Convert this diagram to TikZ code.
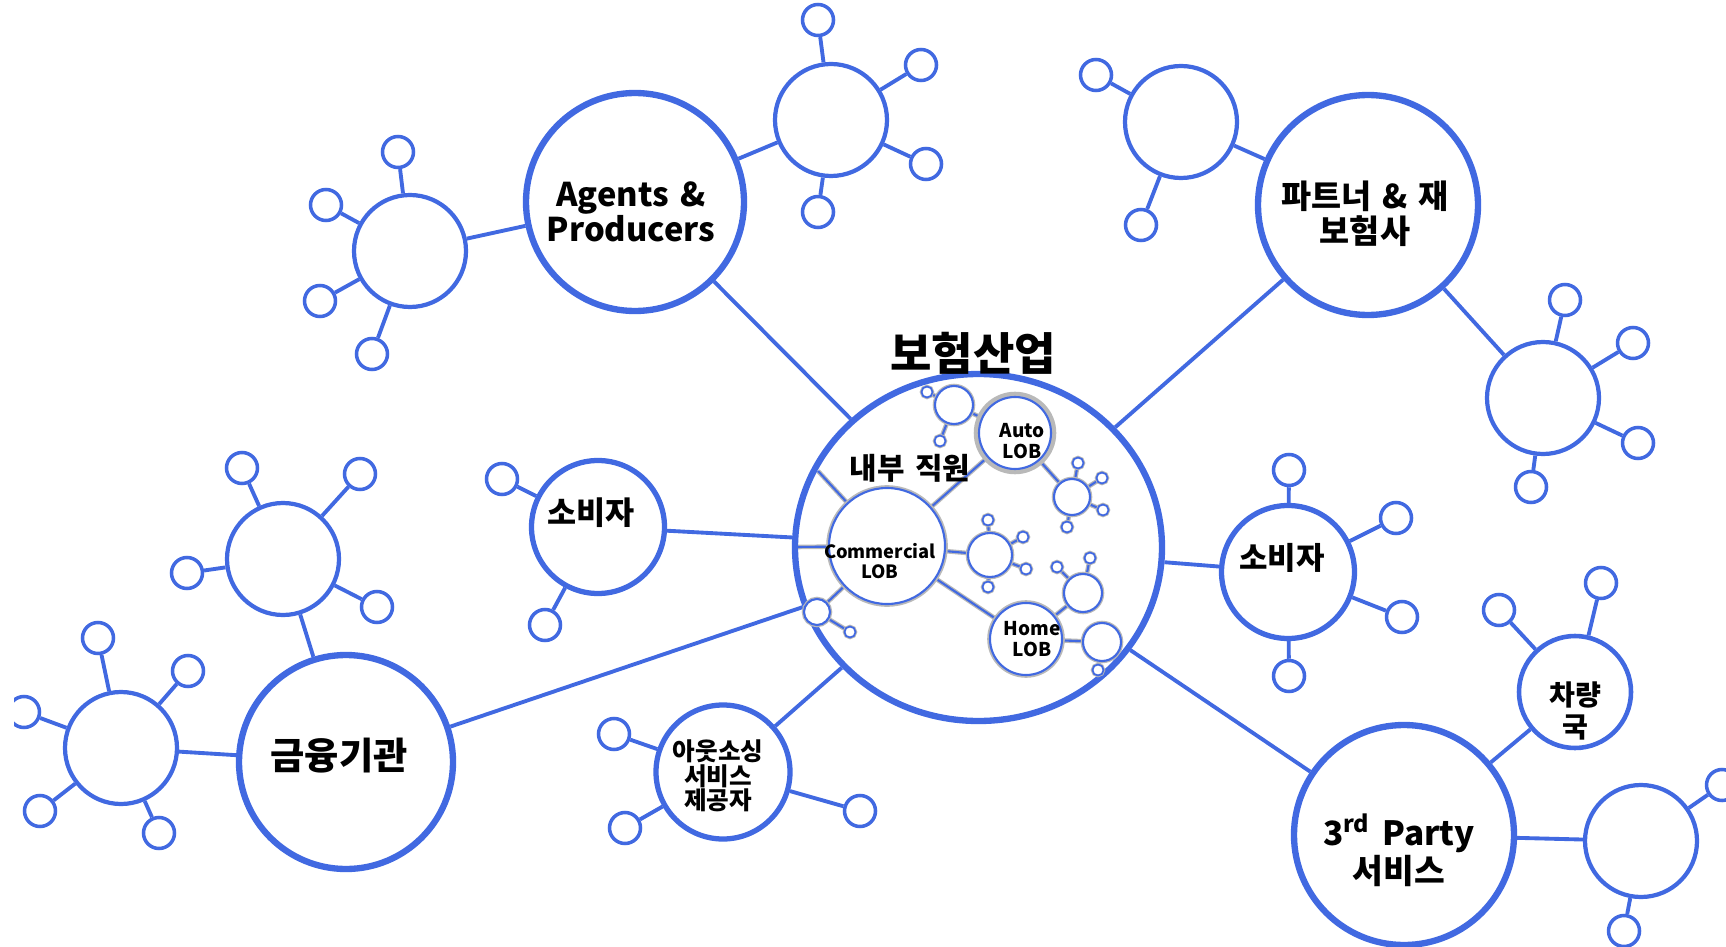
\documentclass[tikz,border=0pt]{standalone}
\usepackage{fontspec}
\setmainfont{Noto Sans CJK KR}[WordSpace=1.5]
\usetikzlibrary{shapes.geometric}
\pgfdeclarelayer{bg}
\pgfsetlayers{bg,main}
\definecolor{netblue}{RGB}{65,105,225}
\tikzset{
    every node/.style={circle, inner sep=0mm, draw=netblue, fill=white, align=center, font=\bfseries}
}
\tikzset{every label/.style={shape=rectangle, draw=none, fill=none, inner sep=0mm, align=center}}
\tikzset{
    group/.style={line width=1.8pt, minimum size=2.18cm},
    member/.style={line width=1.5pt, minimum size=1.33cm},
    hub/.style={line width=1.2pt, minimum size=1.12cm},
    sat/.style={line width=1pt, minimum size=0.31cm},
    caption/.style={draw=none, fill=none, rectangle},
    link/.style={draw=netblue, line width=1.1pt},
    lob/.style={line width=0.6pt, preaction={draw=gray!55, line width=1.6pt}},
    ihub/.style={line width=0.6pt, preaction={draw=gray!55, line width=1.3pt}},
    isat/.style={line width=0.5pt, minimum size=0.11cm, preaction={draw=gray!55, line width=1pt}},
    ilink/.style={draw=netblue, line width=0.6pt, preaction={draw=gray!55, line width=1.3pt}}
}

\begin{document}
\begin{tikzpicture}
        \useasboundingbox (0cm, 0cm) rectangle (17.26cm, -9.47cm);
        \clip (0.14cm, 0cm) rectangle (17.26cm, -9.47cm);
        % core
        \node (g0) [ellipse, fill=none, line width=1.8pt, minimum width=3.67cm, minimum height=3.47cm] at (9.785cm, -5.475cm) {};
        \node (title) [caption, font=\bfseries\fontsize{12.8}{14}\selectfont] at (9.73cm, -3.53cm) {보험산업};
        \node (staff) [caption, font=\bfseries\fontsize{8.5}{9}\selectfont] at (9.10cm, -4.68cm) {내부 직원};
        \node (l1) [lob, minimum size=1.16cm, label={[font=\bfseries\fontsize{5.2}{5.6}\selectfont, xshift=-0.07cm, yshift=-0.15cm]center:Commercial\\LOB}] at (8.87cm, -5.46cm) {};
        \node (l2) [lob, minimum size=0.72cm, preaction={draw=gray!55, line width=3pt}, label={[font=\bfseries\fontsize{5.4}{5.8}\selectfont, xshift=0.07cm, yshift=-0.08cm]center:Auto\\LOB}] at (10.15cm, -4.33cm) {};
        \node (l3) [lob, minimum size=0.72cm, label={[font=\bfseries\fontsize{5.4}{5.8}\selectfont, xshift=0.06cm]center:Home\\LOB}] at (10.26cm, -6.39cm) {};
        \node (i1) [ihub, minimum size=0.38cm] at (9.54cm, -4.05cm) {};
        \node (i2) [ihub, minimum size=0.36cm] at (10.72cm, -4.97cm) {};
        \node (i3) [ihub, minimum size=0.44cm] at (9.90cm, -5.55cm) {};
        \node (i4) [ihub, minimum size=0.38cm] at (10.83cm, -5.93cm) {};
        \node (i5) [ihub, minimum size=0.38cm] at (11.02cm, -6.42cm) {};
        \node (i6) [ihub, minimum size=0.26cm] at (8.17cm, -6.12cm) {};
        \node (t1) [isat] at (9.27cm, -3.92cm) {};
        \node (t2) [isat] at (9.40cm, -4.41cm) {};
        \node (t3) [isat] at (10.78cm, -4.63cm) {};
        \node (t4) [isat] at (11.02cm, -4.78cm) {};
        \node (t5) [isat] at (11.03cm, -5.10cm) {};
        \node (t6) [isat] at (10.67cm, -5.27cm) {};
        \node (t7) [isat] at (9.88cm, -5.20cm) {};
        \node (t8) [isat] at (10.23cm, -5.37cm) {};
        \node (t9) [isat] at (10.26cm, -5.69cm) {};
        \node (t10) [isat] at (9.88cm, -5.87cm) {};
        \node (t11) [isat] at (10.57cm, -5.67cm) {};
        \node (t12) [isat] at (10.90cm, -5.58cm) {};
        \node (t13) [isat] at (10.98cm, -6.70cm) {};
        \node (t14) [isat] at (8.50cm, -6.32cm) {};
        \coordinate (k1) at (8.18cm, -4.71cm);
        \coordinate (k2) at (7.97cm, -5.47cm);
        % groups
        \node (g1) [group, label={[font=\bfseries\fontsize{9.3}{10}\selectfont, xshift=-0.04cm, yshift=-0.10cm]center:Agents \&\\Producers}] at (6.35cm, -2.02cm) {};
        \node (g2) [group, minimum size=2.2cm, label={[font=\bfseries\fontsize{9.3}{10}\selectfont, xshift=-0.03cm, yshift=-0.085cm]center:파트너 \& 재\\보험사}] at (13.68cm, -2.05cm) {};
        \node (g3) [group, minimum size=2.14cm, label={[font=\bfseries\fontsize{10.6}{11}\selectfont, xshift=-0.07cm, yshift=0.06cm]center:금융기관}] at (3.46cm, -7.62cm) {};
        \node (g4) [member, label={[font=\bfseries\fontsize{9}{9}\selectfont, xshift=-0.07cm, yshift=0.14cm]center:소비자}] at (5.98cm, -5.27cm) {};
        \node (g5) [member, minimum size=1.34cm, label={[font=\bfseries\fontsize{7}{6.9}\selectfont, xshift=-0.05cm, yshift=-0.04cm]center:아웃소싱\\서비스\\제공자}] at (7.23cm, -7.72cm) {};
        \node (g6) [member, label={[font=\bfseries\fontsize{8.8}{9}\selectfont, xshift=-0.06cm, yshift=0.14cm]center:소비자}] at (12.88cm, -5.72cm) {};
        \node (g7) [group, minimum size=2.2cm, label={[font=\bfseries\fontsize{9.5}{10.8}\selectfont, xshift=-0.05cm, yshift=-0.15cm]center:3\textsuperscript{rd} Party\\서비스}] at (14.04cm, -8.35cm) {};
        \node (g8) [hub, line width=1.3pt, label={[font=\bfseries\fontsize{8}{9.3}\selectfont, yshift=-0.19cm]center:차량\\국}] at (15.75cm, -6.92cm) {};
        % hubs
        \node (h1) [hub] at (4.10cm, -2.51cm) {};
        \node (h2) [hub] at (8.31cm, -1.20cm) {};
        \node (h3) [hub] at (11.81cm, -1.22cm) {};
        \node (h4) [hub] at (15.43cm, -3.98cm) {};
        \node (h5) [hub] at (2.83cm, -5.59cm) {};
        \node (h6) [hub] at (1.21cm, -7.48cm) {};
        \node (h7) [hub] at (16.41cm, -8.41cm) {};
        % satellites
        \node (s1) [sat] at (3.98cm, -1.52cm) {};
        \node (s2) [sat] at (3.26cm, -2.05cm) {};
        \node (s3) [sat] at (3.20cm, -3.01cm) {};
        \node (s4) [sat] at (3.72cm, -3.54cm) {};
        \node (s5) [sat] at (8.18cm, -0.20cm) {};
        \node (s6) [sat] at (9.21cm, -0.65cm) {};
        \node (s7) [sat] at (9.26cm, -1.64cm) {};
        \node (s8) [sat] at (8.18cm, -2.12cm) {};
        \node (s9) [sat] at (10.96cm, -0.75cm) {};
        \node (s10) [sat] at (11.41cm, -2.25cm) {};
        \node (s11) [sat] at (15.65cm, -3.00cm) {};
        \node (s12) [sat] at (16.33cm, -3.43cm) {};
        \node (s13) [sat] at (16.38cm, -4.43cm) {};
        \node (s14) [sat] at (15.31cm, -4.87cm) {};
        \node (s15) [sat] at (2.42cm, -4.68cm) {};
        \node (s16) [sat] at (3.60cm, -4.74cm) {};
        \node (s17) [sat] at (1.87cm, -5.73cm) {};
        \node (s18) [sat] at (3.77cm, -6.07cm) {};
        \node (s19) [sat] at (0.98cm, -6.38cm) {};
        \node (s20) [sat] at (1.88cm, -6.71cm) {};
        \node (s21) [sat] at (0.24cm, -7.12cm) {};
        \node (s22) [sat] at (0.40cm, -8.11cm) {};
        \node (s23) [sat] at (1.59cm, -8.33cm) {};
        \node (s24) [sat] at (5.02cm, -4.79cm) {};
        \node (s25) [sat] at (5.45cm, -6.25cm) {};
        \node (s26) [sat] at (6.14cm, -7.34cm) {};
        \node (s27) [sat] at (6.25cm, -8.28cm) {};
        \node (s28) [sat] at (8.60cm, -8.11cm) {};
        \node (s29) [sat] at (12.89cm, -4.70cm) {};
        \node (s30) [sat] at (13.96cm, -5.18cm) {};
        \node (s31) [sat] at (14.02cm, -6.17cm) {};
        \node (s32) [sat] at (12.89cm, -6.76cm) {};
        \node (s33) [sat] at (14.99cm, -6.10cm) {};
        \node (s34) [sat] at (16.01cm, -5.83cm) {};
        \node (s35) [sat] at (17.22cm, -7.85cm) {};
        \node (s36) [sat] at (16.24cm, -9.31cm) {};
        \begin{pgfonlayer}{bg}
                \draw (g0) edge [link] (g1);
                \draw (g0) edge [link] (g2);
                \draw (g0) edge [link] (g3);
                \draw (g0) edge [link] (g4);
                \draw (g0) edge [link] (g5);
                \draw (g0) edge [link] (g6);
                \draw (g0) edge [link] (g7);
                \draw (g1) edge [link] (h1);
                \draw (g1) edge [link] (h2);
                \draw (g2) edge [link] (h3);
                \draw (g2) edge [link] (h4);
                \draw (g3) edge [link] (h5);
                \draw (g3) edge [link] (h6);
                \draw (g7) edge [link] (g8);
                \draw (g7) edge [link] (h7);
                \draw (h1) edge [link] (s1);
                \draw (h1) edge [link] (s2);
                \draw (h1) edge [link] (s3);
                \draw (h1) edge [link] (s4);
                \draw (h2) edge [link] (s5);
                \draw (h2) edge [link] (s6);
                \draw (h2) edge [link] (s7);
                \draw (h2) edge [link] (s8);
                \draw (h3) edge [link] (s9);
                \draw (h3) edge [link] (s10);
                \draw (h4) edge [link] (s11);
                \draw (h4) edge [link] (s12);
                \draw (h4) edge [link] (s13);
                \draw (h4) edge [link] (s14);
                \draw (h5) edge [link] (s15);
                \draw (h5) edge [link] (s16);
                \draw (h5) edge [link] (s17);
                \draw (h5) edge [link] (s18);
                \draw (h6) edge [link] (s19);
                \draw (h6) edge [link] (s20);
                \draw (h6) edge [link] (s21);
                \draw (h6) edge [link] (s22);
                \draw (h6) edge [link] (s23);
                \draw (g4) edge [link] (s24);
                \draw (g4) edge [link] (s25);
                \draw (g5) edge [link] (s26);
                \draw (g5) edge [link] (s27);
                \draw (g5) edge [link] (s28);
                \draw (g6) edge [link] (s29);
                \draw (g6) edge [link] (s30);
                \draw (g6) edge [link] (s31);
                \draw (g6) edge [link] (s32);
                \draw (g8) edge [link] (s33);
                \draw (g8) edge [link] (s34);
                \draw (h7) edge [link] (s35);
                \draw (h7) edge [link] (s36);
                % inside the core
                \draw (l1) edge [ilink] (k1);
                \draw (l1) edge [ilink] (k2);
                \draw (l1) edge [ilink] (l2);
                \draw (l1) edge [ilink] (l3);
                \draw (l1) edge [ilink] (i3);
                \draw (l1) edge [ilink] (i6);
                \draw (l2) edge [ilink] (i1);
                \draw (l2) edge [ilink] (i2);
                \draw (l3) edge [ilink] (i4);
                \draw (l3) edge [ilink] (i5);
                \draw (i1) edge [ilink] (t1);
                \draw (i1) edge [ilink] (t2);
                \draw (i2) edge [ilink] (t3);
                \draw (i2) edge [ilink] (t4);
                \draw (i2) edge [ilink] (t5);
                \draw (i2) edge [ilink] (t6);
                \draw (i3) edge [ilink] (t7);
                \draw (i3) edge [ilink] (t8);
                \draw (i3) edge [ilink] (t9);
                \draw (i3) edge [ilink] (t10);
                \draw (i4) edge [ilink] (t11);
                \draw (i4) edge [ilink] (t12);
                \draw (i5) edge [ilink] (t13);
                \draw (i6) edge [ilink] (t14);
        \end{pgfonlayer}
\end{tikzpicture}
\end{document}
